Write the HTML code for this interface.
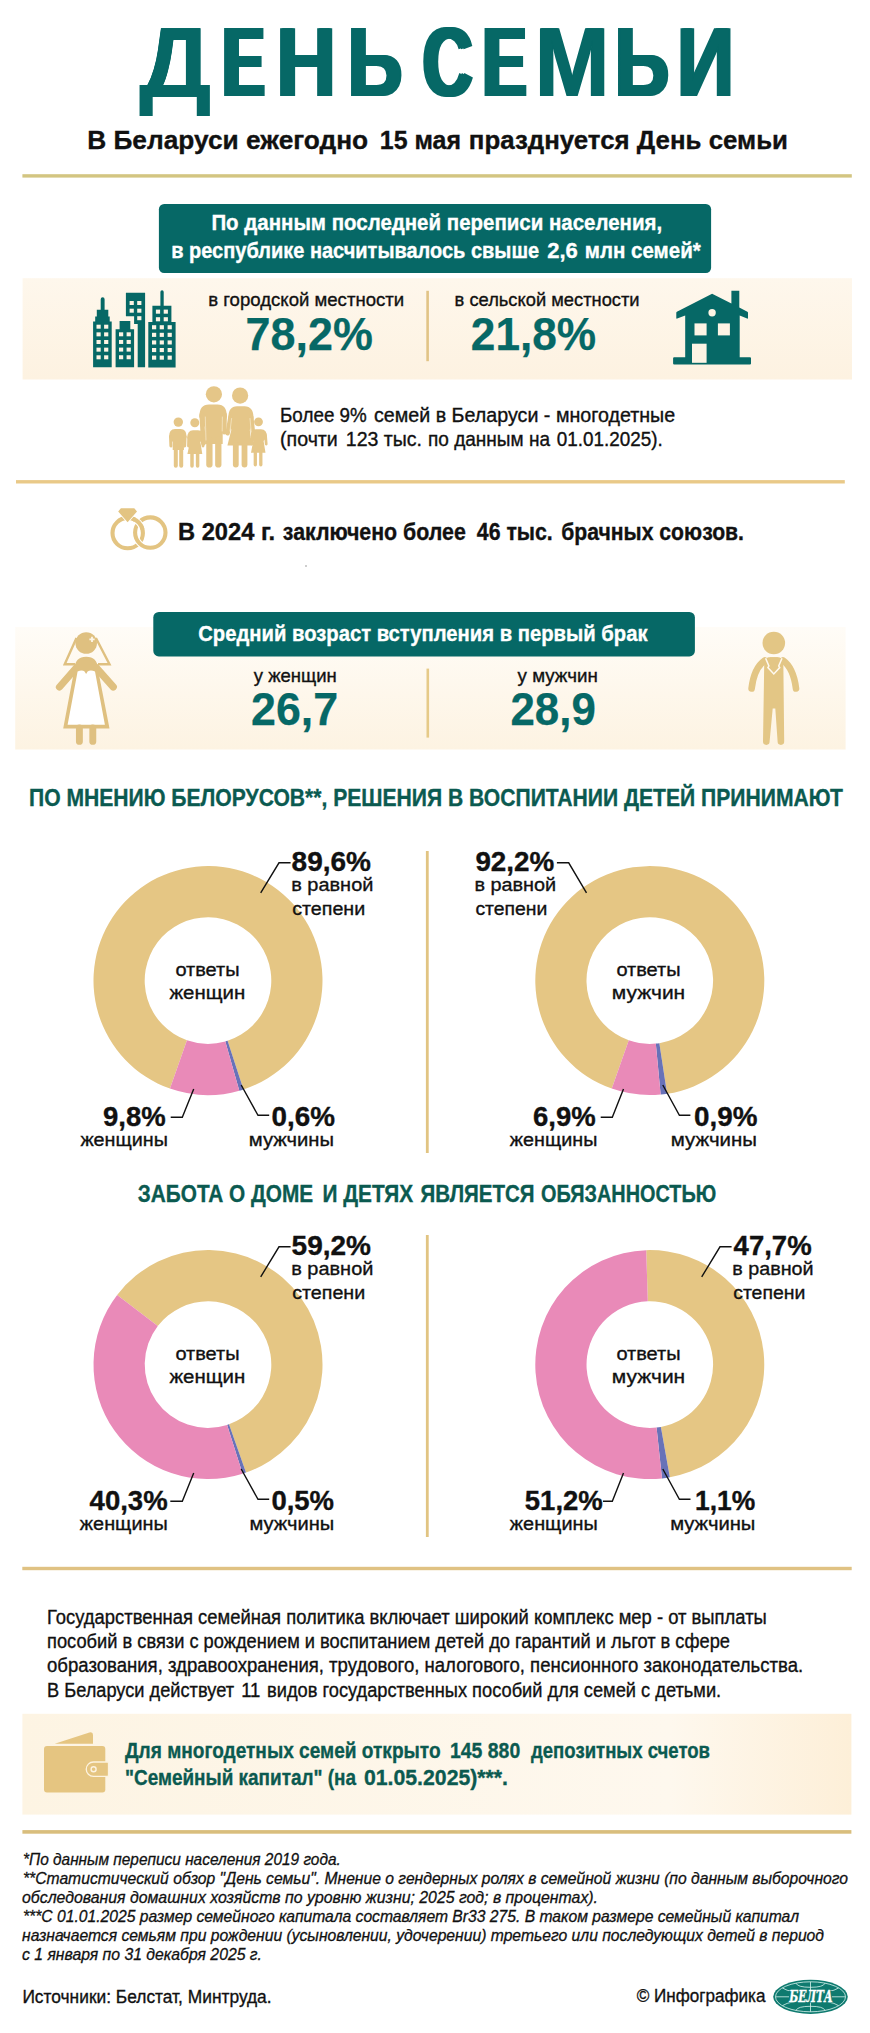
<!DOCTYPE html>
<html lang="ru">
<head>
<meta charset="utf-8">
<title>День семьи</title>
<style>
html,body{margin:0;padding:0;background:#ffffff;}
body{width:870px;height:2033px;overflow:hidden;}
#page{position:relative;width:870px;height:2033px;overflow:hidden;}
h1{position:absolute;left:0;top:0;margin:0;width:870px;height:120px;font:bold 98px/98px "Liberation Sans",sans-serif;color:#066866;}
h1 span{position:absolute;top:0;left:0;transform-origin:0 0;white-space:pre;}
svg{display:block;font-family:"Liberation Sans",sans-serif;}
text{white-space:pre;}
</style>
</head>
<body>
<div id="page">
<h1 id="title"><span style="left:139.07px;top:13px;transform:scaleX(1.0356);text-shadow:0.25px 0 0 #066866,-0.25px 0 0 #066866">Д</span><span style="left:222.88px;top:13px;transform:scaleX(0.6277);text-shadow:4.77px 0 0 #066866,-4.77px 0 0 #066866">Е</span><span style="left:275.6px;top:13px;transform:scaleX(0.8527);text-shadow:1.74px 0 0 #066866,-1.74px 0 0 #066866">Н</span><span style="left:347.52px;top:13px;transform:scaleX(0.7683);text-shadow:2.67px 0 0 #066866,-2.67px 0 0 #066866">Ь</span><span style="left:405px"> </span><span style="left:423.03px;top:13px;transform:scaleX(0.6966);text-shadow:3.64px 0 0 #066866,-3.64px 0 0 #066866">С</span><span style="left:482.87px;top:13px;transform:scaleX(0.6589);text-shadow:4.23px 0 0 #066866,-4.23px 0 0 #066866">Е</span><span style="left:535.35px;top:13px;transform:scaleX(0.9089);text-shadow:1.22px 0 0 #066866,-1.22px 0 0 #066866">М</span><span style="left:615.04px;top:13px;transform:scaleX(0.7661);text-shadow:2.7px 0 0 #066866,-2.7px 0 0 #066866">Ь</span><span style="left:677.11px;top:13px;transform:scaleX(0.8096);text-shadow:2.19px 0 0 #066866,-2.19px 0 0 #066866">И</span></h1>
<svg width="870" height="2033" viewBox="0 0 870 2033">
<defs>
<linearGradient id="gb1" x1="0" x2="0" y1="0" y2="1"><stop offset="0" stop-color="#fef7ec"/><stop offset="1" stop-color="#fdf2e1"/></linearGradient>
<linearGradient id="gb2" x1="0" x2="0" y1="0" y2="1"><stop offset="0" stop-color="#fffcf7"/><stop offset="1" stop-color="#fdf3e2"/></linearGradient>
<linearGradient id="gb3" x1="0" x2="1" y1="0" y2="0"><stop offset="0" stop-color="#fdf4e3"/><stop offset="0.78" stop-color="#fef8ee"/><stop offset="1" stop-color="#fdefd8"/></linearGradient>
</defs>
<rect width="870" height="2033" fill="#ffffff"/>

<g id="header">
<g id="t_sub"><text id="t_sub_0" x="87.2" y="148.8" font-size="26.7" textLength="281" lengthAdjust="spacingAndGlyphs" fill="#111111" font-weight="bold" stroke="#111111" stroke-width="0.35">В Беларуси ежегодно</text><text id="t_sub_1" x="379.8" y="148.8" font-size="26.7" textLength="81.2" lengthAdjust="spacingAndGlyphs" fill="#111111" font-weight="bold" stroke="#111111" stroke-width="0.35">15 мая</text><text id="t_sub_2" x="468.8" y="148.8" font-size="26.7" textLength="319.2" lengthAdjust="spacingAndGlyphs" fill="#111111" font-weight="bold" stroke="#111111" stroke-width="0.35">празднуется День семьи</text></g>
<rect x="22.4" y="174.2" width="829.4" height="3.4" fill="#d3c581"/>
</g>
<g id="census">
<rect x="22.6" y="278.2" width="829.4" height="101.3" fill="url(#gb1)"/>
<rect x="158.9" y="204.1" width="552.2" height="68.8" rx="5.2" fill="#066866"/>
<text id="t_box1a" x="211.4" y="230.3" font-size="21.7" textLength="450.8" lengthAdjust="spacingAndGlyphs" fill="#ffffff" font-weight="bold" stroke="#ffffff" stroke-width="0.35">По данным последней переписи населения,</text>
<g id="t_box1b"><text id="t_box1b_0" x="171.2" y="257.9" font-size="21.7" textLength="368" lengthAdjust="spacingAndGlyphs" fill="#ffffff" font-weight="bold" stroke="#ffffff" stroke-width="0.35">в республике насчитывалось свыше</text><text id="t_box1b_1" x="547.2" y="257.9" font-size="21.7" textLength="30.6" lengthAdjust="spacingAndGlyphs" fill="#ffffff" font-weight="bold" stroke="#ffffff" stroke-width="0.35">2,6</text><text id="t_box1b_2" x="584.8" y="257.9" font-size="21.7" textLength="116" lengthAdjust="spacingAndGlyphs" fill="#ffffff" font-weight="bold" stroke="#ffffff" stroke-width="0.35">млн семей*</text></g>
<g id="icon-city"><path d="M93.1 367.2V321.4H95.2V316.6H96.8V309.7H100.7V299.2a1.95 1.95 0 0 1 3.9 0V309.7H108.3V316.6H109.7V321.4H111.7V367.2Z" fill="#066866"/><rect x="96.5" y="324.7" width="4.2" height="4" fill="#fdf4e4"/><rect x="104.1" y="324.7" width="4.2" height="4" fill="#fdf4e4"/><rect x="96.5" y="332.35" width="4.2" height="4" fill="#fdf4e4"/><rect x="104.1" y="332.35" width="4.2" height="4" fill="#fdf4e4"/><rect x="96.5" y="340" width="4.2" height="4" fill="#fdf4e4"/><rect x="104.1" y="340" width="4.2" height="4" fill="#fdf4e4"/><rect x="96.5" y="347.65" width="4.2" height="4" fill="#fdf4e4"/><rect x="104.1" y="347.65" width="4.2" height="4" fill="#fdf4e4"/><rect x="96.5" y="355.3" width="4.2" height="4" fill="#fdf4e4"/><rect x="104.1" y="355.3" width="4.2" height="4" fill="#fdf4e4"/><path d="M115.6 367.2V329.2H119.6V321H130.3V329.2H134.1V367.2Z" fill="#066866"/><rect x="119" y="332.3" width="4.2" height="4" fill="#fdf4e4"/><rect x="126.6" y="332.3" width="4.2" height="4" fill="#fdf4e4"/><rect x="119" y="339.95" width="4.2" height="4" fill="#fdf4e4"/><rect x="126.6" y="339.95" width="4.2" height="4" fill="#fdf4e4"/><rect x="119" y="347.6" width="4.2" height="4" fill="#fdf4e4"/><rect x="126.6" y="347.6" width="4.2" height="4" fill="#fdf4e4"/><rect x="119" y="355.25" width="4.2" height="4" fill="#fdf4e4"/><rect x="126.6" y="355.25" width="4.2" height="4" fill="#fdf4e4"/><path d="M125.9 292.7H145.1V367.2H137.7V323.9H134.1V316.3H125.9Z" fill="#066866"/><rect x="129.6" y="301" width="4.2" height="4" fill="#fdf4e4"/><rect x="137.2" y="301" width="4.2" height="4" fill="#fdf4e4"/><rect x="129.6" y="308.7" width="4.2" height="4" fill="#fdf4e4"/><rect x="137.2" y="308.7" width="4.2" height="4" fill="#fdf4e4"/><rect x="137.2" y="316.2" width="4.2" height="4" fill="#fdf4e4"/><path d="M148.3 367.6V322.1H152.4V305.8H160.4V292a1.65 1.65 0 0 1 3.3 0V305.8H171.4V322.1H175.6V367.6Z" fill="#066866"/><rect x="155.9" y="309.6" width="4.2" height="4.1" fill="#fdf4e4"/><rect x="163.7" y="309.6" width="4.2" height="4.1" fill="#fdf4e4"/><rect x="155.9" y="317.2" width="4.2" height="4.1" fill="#fdf4e4"/><rect x="163.7" y="317.2" width="4.2" height="4.1" fill="#fdf4e4"/><rect x="152" y="325.2" width="4.2" height="4.1" fill="#fdf4e4"/><rect x="159.7" y="325.2" width="4.2" height="4.1" fill="#fdf4e4"/><rect x="167.6" y="325.2" width="4.2" height="4.1" fill="#fdf4e4"/><rect x="152" y="332.8" width="4.2" height="4.1" fill="#fdf4e4"/><rect x="159.7" y="332.8" width="4.2" height="4.1" fill="#fdf4e4"/><rect x="167.6" y="332.8" width="4.2" height="4.1" fill="#fdf4e4"/><rect x="152" y="340.4" width="4.2" height="4.1" fill="#fdf4e4"/><rect x="159.7" y="340.4" width="4.2" height="4.1" fill="#fdf4e4"/><rect x="167.6" y="340.4" width="4.2" height="4.1" fill="#fdf4e4"/><rect x="152" y="348" width="4.2" height="4.1" fill="#fdf4e4"/><rect x="159.7" y="348" width="4.2" height="4.1" fill="#fdf4e4"/><rect x="167.6" y="348" width="4.2" height="4.1" fill="#fdf4e4"/><rect x="152" y="355.6" width="4.2" height="4.1" fill="#fdf4e4"/><rect x="159.7" y="355.6" width="4.2" height="4.1" fill="#fdf4e4"/><rect x="167.6" y="355.6" width="4.2" height="4.1" fill="#fdf4e4"/></g>
<text id="t_city_l" x="208.2" y="306" font-size="18.2" textLength="196" lengthAdjust="spacingAndGlyphs" fill="#111111" stroke="#111111" stroke-width="0.35">в городской местности</text>
<text id="t_city_v" x="245.6" y="350" font-size="45.5" textLength="127.2" lengthAdjust="spacingAndGlyphs" fill="#066866" font-weight="bold" stroke="#066866" stroke-width="0.25">78,2%</text>
<rect x="426.3" y="290.8" width="2.6" height="70.4" fill="#e1c486"/>
<text id="t_rur_l" x="454.6" y="306" font-size="18.2" textLength="185" lengthAdjust="spacingAndGlyphs" fill="#111111" stroke="#111111" stroke-width="0.35">в сельской местности</text>
<text id="t_rur_v" x="470.8" y="350" font-size="45.5" textLength="125.4" lengthAdjust="spacingAndGlyphs" fill="#066866" font-weight="bold" stroke="#066866" stroke-width="0.25">21,8%</text>
<g id="icon-house">
<path d="M674.1 357.2H685.2V315.4L677.2 318.6Q676.3 318.9 676.3 317.9V312.6Q676.3 312 676.9 311.7L712.1 293.8L731.4 303.6V290.8H739.3V307.6L747.4 311.7Q748 312 748 312.6V317.9Q748 318.9 747.1 318.6L739.7 315.6V357.2H750Q751 357.2 751 358.2V363.4Q751 364.4 750 364.4H674.1Q673.1 364.4 673.1 363.4V358.2Q673.1 357.2 674.1 357.2Z" fill="#066866"/>
<circle cx="712.1" cy="312.8" r="3.7" fill="#fdf4e4"/>
<rect x="694.5" y="323.4" width="12.1" height="12" fill="#fdf4e4"/><rect x="717.9" y="323.4" width="12" height="12" fill="#fdf4e4"/><rect x="692" y="343.7" width="14.6" height="19.1" fill="#fdf4e4"/>
</g>
<g id="icon-family" fill="#e5c688" stroke="#e5c688" stroke-linecap="round" stroke-width="0">
<circle cx="213.9" cy="394.3" r="8.1"/>
<path d="M199.3 417Q199.3 404.6 209 404.6H217.5Q226.9 404.6 226.9 417L222.7 428V444H205.1V428Z"/>
<path d="M201.7 415L203.4 443.5" stroke-width="4.6" fill="none"/><path d="M224.6 415L224.2 432.3" stroke-width="4.6" fill="none"/>
<path d="M209.4 440L209.4 464.4" stroke-width="6.3" fill="none"/><path d="M218.3 440L218.3 464.4" stroke-width="6.3" fill="none"/>
<circle cx="240.1" cy="395.6" r="8.1"/>
<path d="M228.3 418Q228.3 406.2 237 406.2H244.5Q253.5 406.2 253.5 418L249.8 430L251.9 445.4H227.4L231.3 430Z"/>
<path d="M230.4 417L227.6 433.3" stroke-width="4.4" fill="none"/><path d="M251.3 417L253.2 434.6" stroke-width="4.4" fill="none"/>
<path d="M235.8 445L235.8 464.6" stroke-width="5.8" fill="none"/><path d="M244.5 445L244.5 464.6" stroke-width="5.8" fill="none"/>
<circle cx="178.3" cy="422.1" r="4.7"/>
<path d="M169 437Q169 429.1 175 429.1H180.6Q186.6 429.1 186.6 437L183.9 442V450H172.7V442Z"/>
<path d="M170.5 436.5L170.9 446" stroke-width="3" fill="none"/><path d="M185.1 436.5L184.7 446" stroke-width="3" fill="none"/>
<path d="M175.8 448L175.8 465.8" stroke-width="4" fill="none"/><path d="M181.2 448L181.2 465.8" stroke-width="4" fill="none"/>
<circle cx="194.8" cy="422.8" r="4.5"/>
<path d="M187.3 438Q187.3 430.2 193 430.2H198Q204.1 430.2 204.1 438L200.4 442L202.3 454.1H187.4L189.9 442Z"/>
<path d="M188.7 437.5L188.5 446" stroke-width="2.8" fill="none"/><path d="M202.7 437.5L203 446" stroke-width="2.8" fill="none"/>
<path d="M192 454L192 466" stroke-width="3.5" fill="none"/><path d="M197.6 454L197.6 466" stroke-width="3.5" fill="none"/>
<circle cx="258.5" cy="421.8" r="4.4"/>
<path d="M250.8 437Q250.8 429.2 256 429.2H261Q267 429.2 267 437L263.6 441L265.5 452.7H251L253.2 441Z"/>
<path d="M252.2 436.5L251.8 444" stroke-width="2.8" fill="none"/><path d="M265.6 436.5L266.2 444" stroke-width="2.8" fill="none"/>
<path d="M255.3 452.5L255.3 464.8" stroke-width="3.3" fill="none"/><path d="M260.8 452.5L260.8 464.8" stroke-width="3.3" fill="none"/>
<path d="M205.3 417L206 440M222.4 417L222.2 431M231.6 418.5L230 431M250 418.5L251.2 432" stroke="#f5e6c4" stroke-width="0.8" fill="none"/>
</g>
<g id="t_fam1"><text id="t_fam1_0" x="280" y="421.5" font-size="19.7" textLength="86.8" lengthAdjust="spacingAndGlyphs" fill="#111111" stroke="#111111" stroke-width="0.35">Более 9%</text><text id="t_fam1_1" x="374" y="421.5" font-size="19.7" textLength="301.2" lengthAdjust="spacingAndGlyphs" fill="#111111" stroke="#111111" stroke-width="0.35">семей в Беларуси - многодетные</text></g>
<g id="t_fam2"><text id="t_fam2_0" x="280" y="446.3" font-size="19.7" textLength="57.8" lengthAdjust="spacingAndGlyphs" fill="#111111" stroke="#111111" stroke-width="0.35">(почти</text><text id="t_fam2_1" x="345.8" y="446.3" font-size="19.7" textLength="76.2" lengthAdjust="spacingAndGlyphs" fill="#111111" stroke="#111111" stroke-width="0.35">123 тыс.</text><text id="t_fam2_2" x="428" y="446.3" font-size="19.7" textLength="122" lengthAdjust="spacingAndGlyphs" fill="#111111" stroke="#111111" stroke-width="0.35">по данным на</text><text id="t_fam2_3" x="556.8" y="446.3" font-size="19.7" textLength="106" lengthAdjust="spacingAndGlyphs" fill="#111111" stroke="#111111" stroke-width="0.35">01.01.2025).</text></g>
</g>
<g id="marriages">
<rect x="16" y="480.1" width="828.8" height="3.4" fill="#e9c988"/>
<g id="icon-rings" fill="none" stroke="#e3c482" stroke-width="4.1">
<circle cx="127.7" cy="533.1" r="15.2"/>
<circle cx="150.3" cy="532.6" r="15.2" stroke="#ffffff" stroke-width="6.1"/>
<circle cx="150.3" cy="532.6" r="15.2"/>
<path d="M134.8 519.7A15.2 15.2 0 0 1 141.6 526.9" stroke="#ffffff" stroke-width="6.1"/>
<path d="M132.9 518.8A15.2 15.2 0 0 1 142.4 529.2"/>
<path d="M120.9 508.3H134.3L137 511.6L127.6 522.2L118.2 511.6Z" fill="#e3c482" stroke="#ffffff" stroke-width="1.6" paint-order="stroke"/>
</g>
<g id="t_mar"><text id="t_mar_0" x="178" y="539.7" font-size="23.1" textLength="97" lengthAdjust="spacingAndGlyphs" fill="#111111" font-weight="bold" stroke="#111111" stroke-width="0.35">В 2024 г.</text><text id="t_mar_1" x="282.8" y="539.7" font-size="23.1" textLength="183" lengthAdjust="spacingAndGlyphs" fill="#111111" font-weight="bold" stroke="#111111" stroke-width="0.35">заключено более</text><text id="t_mar_2" x="476.8" y="539.7" font-size="23.1" textLength="76" lengthAdjust="spacingAndGlyphs" fill="#111111" font-weight="bold" stroke="#111111" stroke-width="0.35">46 тыс.</text><text id="t_mar_3" x="561.2" y="539.7" font-size="23.1" textLength="182.8" lengthAdjust="spacingAndGlyphs" fill="#111111" font-weight="bold" stroke="#111111" stroke-width="0.35">брачных союзов.</text></g>
<circle cx="306" cy="566" r="0.7" fill="#777"/>
</g>
<g id="age">
<rect x="15.2" y="627" width="830.4" height="122.5" fill="url(#gb2)"/>
<rect x="153.3" y="611.9" width="541.6" height="44.5" rx="5.5" fill="#066866"/>
<text id="t_box2" x="198.2" y="641.1" font-size="22" textLength="449.4" lengthAdjust="spacingAndGlyphs" fill="#ffffff" font-weight="bold" stroke="#ffffff" stroke-width="0.35">Средний возраст вступления в первый брак</text>
<text id="t_w_l" x="253.8" y="681.5" font-size="18.2" textLength="83" lengthAdjust="spacingAndGlyphs" fill="#111111" stroke="#111111" stroke-width="0.35">у женщин</text>
<text id="t_w_v" x="251" y="725.3" font-size="45.5" textLength="87.2" lengthAdjust="spacingAndGlyphs" fill="#066866" font-weight="bold" stroke="#066866" stroke-width="0.25">26,7</text>
<rect x="426.5" y="668.6" width="2.6" height="69" fill="#e6ca88"/>
<text id="t_m_l" x="517.6" y="681.5" font-size="18.2" textLength="80.2" lengthAdjust="spacingAndGlyphs" fill="#111111" stroke="#111111" stroke-width="0.35">у мужчин</text>
<text id="t_m_v" x="510.4" y="725.3" font-size="45.5" textLength="85.4" lengthAdjust="spacingAndGlyphs" fill="#066866" font-weight="bold" stroke="#066866" stroke-width="0.25">28,9</text>
<g id="icon-bride">
<path d="M76.5 638L64.7 664.3H75M95.9 638L109.5 664.3H98" fill="none" stroke="#dfc080" stroke-width="2.4" stroke-linejoin="miter"/>
<circle cx="86.2" cy="643" r="10.8" fill="#dfc080"/>
<path d="M76.5 667.5L59.5 687M96 667.5L113.3 687" stroke="#dfc080" stroke-width="7.2" stroke-linecap="round" fill="none"/>
<path d="M74.5 668.5Q75 657 86.2 656.8Q97.5 657 97.8 668.5L109.5 728.6H63.2Z" fill="#dfc080"/>
<path d="M77.6 671.5Q82 669.6 84.6 671.5L86.1 674L87.6 671.5Q90.5 669.6 95 671.5L104.9 724.8H67.6Z" fill="#ffffff"/>
<path d="M79.4 728V741.4M92.8 728V741.4" stroke="#dfc080" stroke-width="6.9" stroke-linecap="round" fill="none"/>
<path d="M89.4 638.5h1.7v-1.7h1.8v1.7h1.7v1.8h-1.7v1.7h-1.8v-1.7h-1.7z" fill="#fdf6e8"/>
</g>
<g id="icon-groom">
<circle cx="773.8" cy="643" r="11.3" fill="#e3c685"/>
<path d="M764.8 660.5Q754 668 751.6 688.5M783 660.5Q793.5 668 796 688.5" stroke="#e3c685" stroke-width="6.6" stroke-linecap="round" fill="none"/>
<path d="M764.3 659L768.6 657.2H779L783.3 659L784.2 741.6a3.3 3.3 0 0 1 -6.6 0L775.3 708.5H772.7L769.6 741.6a3.3 3.3 0 0 1 -6.6 0Z" fill="#e3c685"/>
<path d="M765.6 658.2L768.9 666L767.9 667.6L773.8 674L779.7 667.6L778.7 666L782 658.2" fill="none" stroke="#fef9f0" stroke-width="1.5"/>
<path d="M769.6 657.2H778L773.8 669.5Z" fill="#e3c685"/>
</g>
</g>
<g id="charts-decisions">
<text id="t_h1" x="29" y="806.4" font-size="23.6" textLength="813.8" lengthAdjust="spacingAndGlyphs" fill="#0b5a50" font-weight="bold" stroke="#0b5a50" stroke-width="0.35">ПО МНЕНИЮ БЕЛОРУСОВ**, РЕШЕНИЯ В ВОСПИТАНИИ ДЕТЕЙ ПРИНИМАЮТ</text>
<rect x="425.9" y="851" width="2.8" height="302" fill="#e1c482"/>
<g id="donut1">
<path d="M169.97 1088.6A114.5 114.5 0 1 1 243.46 1089.47L227.6 1040.79A63.3 63.3 0 1 0 186.97 1040.31Z" fill="#e5c684"/>
<path d="M243.46 1089.47A114.5 114.5 0 0 1 239.33 1090.73L225.32 1041.48A63.3 63.3 0 0 0 227.6 1040.79Z" fill="#6872b8"/>
<path d="M239.33 1090.73A114.5 114.5 0 0 1 169.97 1088.6L186.97 1040.31A63.3 63.3 0 0 0 225.32 1041.48Z" fill="#e98ab8"/>
<polyline points="260.7,892.9 279,862.8 290.6,862.8" fill="none" stroke="#111" stroke-width="1.4"/>
<polyline points="193.7,1089.1 182.3,1117.2 170.7,1117.2" fill="none" stroke="#111" stroke-width="1.4"/>
<polyline points="241.2,1085 258,1115.3 269.2,1115.3" fill="none" stroke="#111" stroke-width="1.4"/>
<text id="d1_v" x="291.6" y="870.9" font-size="27" textLength="79.4" lengthAdjust="spacingAndGlyphs" fill="#111111" font-weight="bold" stroke="#111111" stroke-width="0.35">89,6%</text>
<text id="d1_a" x="291.2" y="891" font-size="19.2" textLength="82.2" lengthAdjust="spacingAndGlyphs" fill="#111111" stroke="#111111" stroke-width="0.35">в равной</text>
<text id="d1_b" x="292.2" y="914.8" font-size="19.2" textLength="73" lengthAdjust="spacingAndGlyphs" fill="#111111" stroke="#111111" stroke-width="0.35">степени</text>
<text id="d1_c1" x="175.4" y="975.5" font-size="19.2" textLength="64.2" lengthAdjust="spacingAndGlyphs" fill="#111111" stroke="#111111" stroke-width="0.35">ответы</text>
<text id="d1_c2" x="169.4" y="998.5" font-size="19.2" textLength="75.8" lengthAdjust="spacingAndGlyphs" fill="#111111" stroke="#111111" stroke-width="0.35">женщин</text>
<text id="d1_wv" x="103" y="1126" font-size="27" textLength="62.6" lengthAdjust="spacingAndGlyphs" fill="#111111" font-weight="bold" stroke="#111111" stroke-width="0.35">9,8%</text>
<text id="d1_wl" x="80.4" y="1146.1" font-size="19.2" textLength="87.6" lengthAdjust="spacingAndGlyphs" fill="#111111" stroke="#111111" stroke-width="0.35">женщины</text>
<text id="d1_mv" x="271.6" y="1126" font-size="27" textLength="63.4" lengthAdjust="spacingAndGlyphs" fill="#111111" font-weight="bold" stroke="#111111" stroke-width="0.35">0,6%</text>
<text id="d1_ml" x="248.8" y="1146.1" font-size="19.2" textLength="85.2" lengthAdjust="spacingAndGlyphs" fill="#111111" stroke="#111111" stroke-width="0.35">мужчины</text>
</g>
<g id="donut2">
<path d="M611.77 1088.6A114.5 114.5 0 1 1 667.08 1093.79L659.35 1043.18A63.3 63.3 0 1 0 628.77 1040.31Z" fill="#e5c684"/>
<path d="M667.08 1093.79A114.5 114.5 0 0 1 660.65 1094.58L655.8 1043.61A63.3 63.3 0 0 0 659.35 1043.18Z" fill="#6872b8"/>
<path d="M660.65 1094.58A114.5 114.5 0 0 1 611.77 1088.6L628.77 1040.31A63.3 63.3 0 0 0 655.8 1043.61Z" fill="#e98ab8"/>
<polyline points="556.9,862.8 568.7,862.8 586.5,892.9" fill="none" stroke="#111" stroke-width="1.4"/>
<polyline points="623.5,1089.1 612.3,1117.2 600.7,1117.2" fill="none" stroke="#111" stroke-width="1.4"/>
<polyline points="662.8,1085 679.4,1115.3 690.4,1115.3" fill="none" stroke="#111" stroke-width="1.4"/>
<text id="d2_v" x="475.4" y="870.9" font-size="27" textLength="78.8" lengthAdjust="spacingAndGlyphs" fill="#111111" font-weight="bold" stroke="#111111" stroke-width="0.35">92,2%</text>
<text id="d2_a" x="474.4" y="891" font-size="19.2" textLength="81.8" lengthAdjust="spacingAndGlyphs" fill="#111111" stroke="#111111" stroke-width="0.35">в равной</text>
<text id="d2_b" x="475.4" y="914.8" font-size="19.2" textLength="72" lengthAdjust="spacingAndGlyphs" fill="#111111" stroke="#111111" stroke-width="0.35">степени</text>
<text id="d2_c1" x="616.4" y="975.5" font-size="19.2" textLength="64.2" lengthAdjust="spacingAndGlyphs" fill="#111111" stroke="#111111" stroke-width="0.35">ответы</text>
<text id="d2_c2" x="611.8" y="998.5" font-size="19.2" textLength="73.4" lengthAdjust="spacingAndGlyphs" fill="#111111" stroke="#111111" stroke-width="0.35">мужчин</text>
<text id="d2_wv" x="533" y="1126" font-size="27" textLength="62.6" lengthAdjust="spacingAndGlyphs" fill="#111111" font-weight="bold" stroke="#111111" stroke-width="0.35">6,9%</text>
<text id="d2_wl" x="509.8" y="1146.1" font-size="19.2" textLength="87.6" lengthAdjust="spacingAndGlyphs" fill="#111111" stroke="#111111" stroke-width="0.35">женщины</text>
<text id="d2_mv" x="694" y="1126" font-size="27" textLength="63.4" lengthAdjust="spacingAndGlyphs" fill="#111111" font-weight="bold" stroke="#111111" stroke-width="0.35">0,9%</text>
<text id="d2_ml" x="670.8" y="1146.1" font-size="19.2" textLength="86.2" lengthAdjust="spacingAndGlyphs" fill="#111111" stroke="#111111" stroke-width="0.35">мужчины</text>
</g>
</g>
<g id="charts-duty">
<g id="t_h2"><text id="t_h2_0" x="137.8" y="1201.6" font-size="23.6" textLength="175.4" lengthAdjust="spacingAndGlyphs" fill="#0b5a50" font-weight="bold" stroke="#0b5a50" stroke-width="0.35">ЗАБОТА О ДОМЕ</text><text id="t_h2_1" x="322.4" y="1201.6" font-size="23.6" textLength="90.8" lengthAdjust="spacingAndGlyphs" fill="#0b5a50" font-weight="bold" stroke="#0b5a50" stroke-width="0.35">И ДЕТЯХ</text><text id="t_h2_2" x="420.6" y="1201.6" font-size="23.6" textLength="114" lengthAdjust="spacingAndGlyphs" fill="#0b5a50" font-weight="bold" stroke="#0b5a50" stroke-width="0.35">ЯВЛЯЕТСЯ</text><text id="t_h2_3" x="541" y="1201.6" font-size="23.6" textLength="175.2" lengthAdjust="spacingAndGlyphs" fill="#0b5a50" font-weight="bold" stroke="#0b5a50" stroke-width="0.35">ОБЯЗАННОСТЬЮ</text></g>
<rect x="425.9" y="1235" width="2.8" height="302" fill="#e1c482"/>
<g id="donut3">
<path d="M117.16 1294.9A114.5 114.5 0 1 1 245.99 1472.61L229 1424.31A63.3 63.3 0 1 0 157.78 1326.07Z" fill="#e5c684"/>
<path d="M245.99 1472.61A114.5 114.5 0 0 1 242.58 1473.75L227.12 1424.94A63.3 63.3 0 0 0 229 1424.31Z" fill="#6872b8"/>
<path d="M242.58 1473.75A114.5 114.5 0 0 1 117.16 1294.9L157.78 1326.07A63.3 63.3 0 0 0 227.12 1424.94Z" fill="#e98ab8"/>
<polyline points="260.7,1276.9 279,1246.8 290.6,1246.8" fill="none" stroke="#111" stroke-width="1.4"/>
<polyline points="193.7,1473.1 182.3,1501.2 170.3,1501.2" fill="none" stroke="#111" stroke-width="1.4"/>
<polyline points="241.2,1469 258,1499.3 269.2,1499.3" fill="none" stroke="#111" stroke-width="1.4"/>
<text id="d3_v" x="291.6" y="1254.9" font-size="27" textLength="79.4" lengthAdjust="spacingAndGlyphs" fill="#111111" font-weight="bold" stroke="#111111" stroke-width="0.35">59,2%</text>
<text id="d3_a" x="291.2" y="1275" font-size="19.2" textLength="82.2" lengthAdjust="spacingAndGlyphs" fill="#111111" stroke="#111111" stroke-width="0.35">в равной</text>
<text id="d3_b" x="292.2" y="1298.8" font-size="19.2" textLength="73" lengthAdjust="spacingAndGlyphs" fill="#111111" stroke="#111111" stroke-width="0.35">степени</text>
<text id="d3_c1" x="175.4" y="1359.5" font-size="19.2" textLength="64.2" lengthAdjust="spacingAndGlyphs" fill="#111111" stroke="#111111" stroke-width="0.35">ответы</text>
<text id="d3_c2" x="169.4" y="1382.5" font-size="19.2" textLength="75.8" lengthAdjust="spacingAndGlyphs" fill="#111111" stroke="#111111" stroke-width="0.35">женщин</text>
<text id="d3_wv" x="89.6" y="1510" font-size="27" textLength="78" lengthAdjust="spacingAndGlyphs" fill="#111111" font-weight="bold" stroke="#111111" stroke-width="0.35">40,3%</text>
<text id="d3_wl" x="79.8" y="1530.1" font-size="19.2" textLength="88" lengthAdjust="spacingAndGlyphs" fill="#111111" stroke="#111111" stroke-width="0.35">женщины</text>
<text id="d3_mv" x="271.4" y="1510" font-size="27" textLength="62.6" lengthAdjust="spacingAndGlyphs" fill="#111111" font-weight="bold" stroke="#111111" stroke-width="0.35">0,5%</text>
<text id="d3_ml" x="249.4" y="1530.1" font-size="19.2" textLength="84.8" lengthAdjust="spacingAndGlyphs" fill="#111111" stroke="#111111" stroke-width="0.35">мужчины</text>
</g>
<g id="donut4">
<path d="M646.2 1250.16A114.5 114.5 0 0 1 669.84 1477.33L660.88 1426.92A63.3 63.3 0 0 0 647.81 1301.33Z" fill="#e5c684"/>
<path d="M669.84 1477.33A114.5 114.5 0 0 1 662.01 1478.45L656.55 1427.54A63.3 63.3 0 0 0 660.88 1426.92Z" fill="#6872b8"/>
<path d="M662.01 1478.45A114.5 114.5 0 1 1 646.2 1250.16L647.81 1301.33A63.3 63.3 0 1 0 656.55 1427.54Z" fill="#e98ab8"/>
<polyline points="701.7,1276.9 720,1246.8 731.6,1246.8" fill="none" stroke="#111" stroke-width="1.4"/>
<polyline points="623.5,1473.1 612.3,1501.2 603,1501.2" fill="none" stroke="#111" stroke-width="1.4"/>
<polyline points="662.8,1469 679.4,1499.3 690.5,1499.3" fill="none" stroke="#111" stroke-width="1.4"/>
<text id="d4_v" x="733.6" y="1254.9" font-size="27" textLength="78" lengthAdjust="spacingAndGlyphs" fill="#111111" font-weight="bold" stroke="#111111" stroke-width="0.35">47,7%</text>
<text id="d4_a" x="732.2" y="1275" font-size="19.2" textLength="81.4" lengthAdjust="spacingAndGlyphs" fill="#111111" stroke="#111111" stroke-width="0.35">в равной</text>
<text id="d4_b" x="733.2" y="1298.8" font-size="19.2" textLength="72.2" lengthAdjust="spacingAndGlyphs" fill="#111111" stroke="#111111" stroke-width="0.35">степени</text>
<text id="d4_c1" x="616.4" y="1359.5" font-size="19.2" textLength="64.2" lengthAdjust="spacingAndGlyphs" fill="#111111" stroke="#111111" stroke-width="0.35">ответы</text>
<text id="d4_c2" x="611.8" y="1382.5" font-size="19.2" textLength="73.4" lengthAdjust="spacingAndGlyphs" fill="#111111" stroke="#111111" stroke-width="0.35">мужчин</text>
<text id="d4_wv" x="524.8" y="1510" font-size="27" textLength="78" lengthAdjust="spacingAndGlyphs" fill="#111111" font-weight="bold" stroke="#111111" stroke-width="0.35">51,2%</text>
<text id="d4_wl" x="509.8" y="1530.1" font-size="19.2" textLength="88" lengthAdjust="spacingAndGlyphs" fill="#111111" stroke="#111111" stroke-width="0.35">женщины</text>
<text id="d4_mv" x="695" y="1510" font-size="27" textLength="60.2" lengthAdjust="spacingAndGlyphs" fill="#111111" font-weight="bold" stroke="#111111" stroke-width="0.35">1,1%</text>
<text id="d4_ml" x="670.2" y="1530.1" font-size="19.2" textLength="85.2" lengthAdjust="spacingAndGlyphs" fill="#111111" stroke="#111111" stroke-width="0.35">мужчины</text>
</g>
</g>
<g id="policy">
<rect x="22.3" y="1566.8" width="829.4" height="3.4" fill="#e0c283"/>
<text id="p1" x="47" y="1624" font-size="19.7" textLength="719.8" lengthAdjust="spacingAndGlyphs" fill="#111111" stroke="#111111" stroke-width="0.35">Государственная семейная политика включает широкий комплекс мер - от выплаты</text>
<text id="p2" x="47" y="1648" font-size="19.7" textLength="683" lengthAdjust="spacingAndGlyphs" fill="#111111" stroke="#111111" stroke-width="0.35">пособий в связи с рождением и воспитанием детей до гарантий и льгот в сфере</text>
<text id="p3" x="47" y="1672.2" font-size="19.7" textLength="756.2" lengthAdjust="spacingAndGlyphs" fill="#111111" stroke="#111111" stroke-width="0.35">образования, здравоохранения, трудового, налогового, пенсионного законодательства.</text>
<g id="p4"><text id="p4_0" x="47" y="1696.5" font-size="19.7" textLength="187" lengthAdjust="spacingAndGlyphs" fill="#111111" stroke="#111111" stroke-width="0.35">В Беларуси действует</text><text id="p4_1" x="241.2" y="1696.5" font-size="19.7" textLength="19.2" lengthAdjust="spacingAndGlyphs" fill="#111111" stroke="#111111" stroke-width="0.35">11</text><text id="p4_2" x="267" y="1696.5" font-size="19.7" textLength="454.2" lengthAdjust="spacingAndGlyphs" fill="#111111" stroke="#111111" stroke-width="0.35">видов государственных пособий для семей с детьми.</text></g>
<rect x="22.4" y="1713.8" width="829" height="100.8" fill="url(#gb3)"/>
<g id="icon-wallet">
<path d="M54.7 1743.8L89.4 1732.6Q93 1731.6 93 1735V1743.8Z" fill="#e5c581"/>
<rect x="44" y="1745.9" width="61.3" height="46.5" rx="3" fill="#e5c581"/>
<path d="M93.4 1762H107.5Q108.5 1762 108.5 1763V1775.3Q108.5 1776.3 107.5 1776.3H93.4A7.15 7.15 0 0 1 93.4 1762Z" fill="#e5c581" stroke="#fdf3df" stroke-width="1.3"/>
<circle cx="93.6" cy="1769.2" r="2.5" fill="#e5c581" stroke="#fdf3df" stroke-width="1.4"/>
</g>
<g id="w1"><text id="w1_0" x="125" y="1758.3" font-size="22" textLength="315.6" lengthAdjust="spacingAndGlyphs" fill="#0b5a50" font-weight="bold" stroke="#0b5a50" stroke-width="0.35">Для многодетных семей открыто</text><text id="w1_1" x="450" y="1758.3" font-size="22" textLength="70.2" lengthAdjust="spacingAndGlyphs" fill="#0b5a50" font-weight="bold" stroke="#0b5a50" stroke-width="0.35">145 880</text><text id="w1_2" x="531" y="1758.3" font-size="22" textLength="179" lengthAdjust="spacingAndGlyphs" fill="#0b5a50" font-weight="bold" stroke="#0b5a50" stroke-width="0.35">депозитных счетов</text></g>
<g id="w2"><text id="w2_0" x="125" y="1784.8" font-size="22" textLength="231" lengthAdjust="spacingAndGlyphs" fill="#0b5a50" font-weight="bold" stroke="#0b5a50" stroke-width="0.35">"Семейный капитал" (на</text><text id="w2_1" x="364" y="1784.8" font-size="22" textLength="144" lengthAdjust="spacingAndGlyphs" fill="#0b5a50" font-weight="bold" stroke="#0b5a50" stroke-width="0.35">01.05.2025)***.</text></g>
<rect x="22.4" y="1830.1" width="829" height="3.6" fill="#d9be7d"/>
</g>
<g id="footnotes">
<text id="f1" x="23" y="1865" font-size="17" textLength="317.8" lengthAdjust="spacingAndGlyphs" fill="#111111" stroke="#111111" stroke-width="0.3" font-style="italic">*По данным переписи населения 2019 года.</text>
<text id="f2" x="23" y="1884" font-size="17" textLength="825" lengthAdjust="spacingAndGlyphs" fill="#111111" stroke="#111111" stroke-width="0.3" font-style="italic">**Статистический обзор "День семьи". Мнение о гендерных ролях в семейной жизни (по данным выборочного</text>
<text id="f3" x="22" y="1903" font-size="17" textLength="576" lengthAdjust="spacingAndGlyphs" fill="#111111" stroke="#111111" stroke-width="0.3" font-style="italic">обследования домашних хозяйств по уровню жизни; 2025 год; в процентах).</text>
<text id="f4" x="23" y="1922" font-size="17" textLength="776" lengthAdjust="spacingAndGlyphs" fill="#111111" stroke="#111111" stroke-width="0.3" font-style="italic">***С 01.01.2025 размер семейного капитала составляет Br33 275. В таком размере семейный капитал</text>
<text id="f5" x="22" y="1941" font-size="17" textLength="802" lengthAdjust="spacingAndGlyphs" fill="#111111" stroke="#111111" stroke-width="0.3" font-style="italic">назначается семьям при рождении (усыновлении, удочерении) третьего или последующих детей в период</text>
<text id="f6" x="22" y="1960" font-size="17" textLength="240" lengthAdjust="spacingAndGlyphs" fill="#111111" stroke="#111111" stroke-width="0.3" font-style="italic">с 1 января по 31 декабря 2025 г.</text>
</g>
<g id="footer">
<text id="src" x="22.4" y="2003.3" font-size="18.7" textLength="249.2" lengthAdjust="spacingAndGlyphs" fill="#111111" stroke="#111111" stroke-width="0.35">Источники: Белстат, Минтруда.</text>
<text id="cpr" x="636.8" y="2002.3" font-size="18.7" textLength="128.6" lengthAdjust="spacingAndGlyphs" fill="#111111" stroke="#111111" stroke-width="0.35">© Инфографика</text>
<g id="logo-belta">
<ellipse cx="810.5" cy="1996.8" rx="37.3" ry="17.1" fill="#0e7a6f"/>
<g fill="none" stroke="#d8f3ee" stroke-width="0.8">
<ellipse cx="810.5" cy="1996.8" rx="35" ry="15"/>
<path d="M810.5 1981.8V2011.8M775.5 1996.8H845.5"/>
<path d="M796 1983.2Q797.5 1987.3 810.5 1987.3Q823.5 1987.3 825 1983.2M782.5 1988Q790 1993 810.5 1993Q831 1993 838.5 1988"/>
<path d="M796 2010.4Q797.5 2006.3 810.5 2006.3Q823.5 2006.3 825 2010.4M782.5 2005.6Q790 2000.6 810.5 2000.6Q831 2000.6 838.5 2005.6"/>
</g>
<rect x="789" y="1991" width="43" height="11.6" fill="#0e7a6f"/>
<text id="logo_t" x="789.2" y="2002.4" font-size="16.3" textLength="43.4" lengthAdjust="spacingAndGlyphs" fill="#ffffff" font-weight="bold" stroke="#ffffff" stroke-width="0.35" font-style="italic" font-family="'DejaVu Serif', 'Liberation Serif', serif">БЕЛТА</text>
</g>
</g>
</svg>
</div>
</body>
</html>
